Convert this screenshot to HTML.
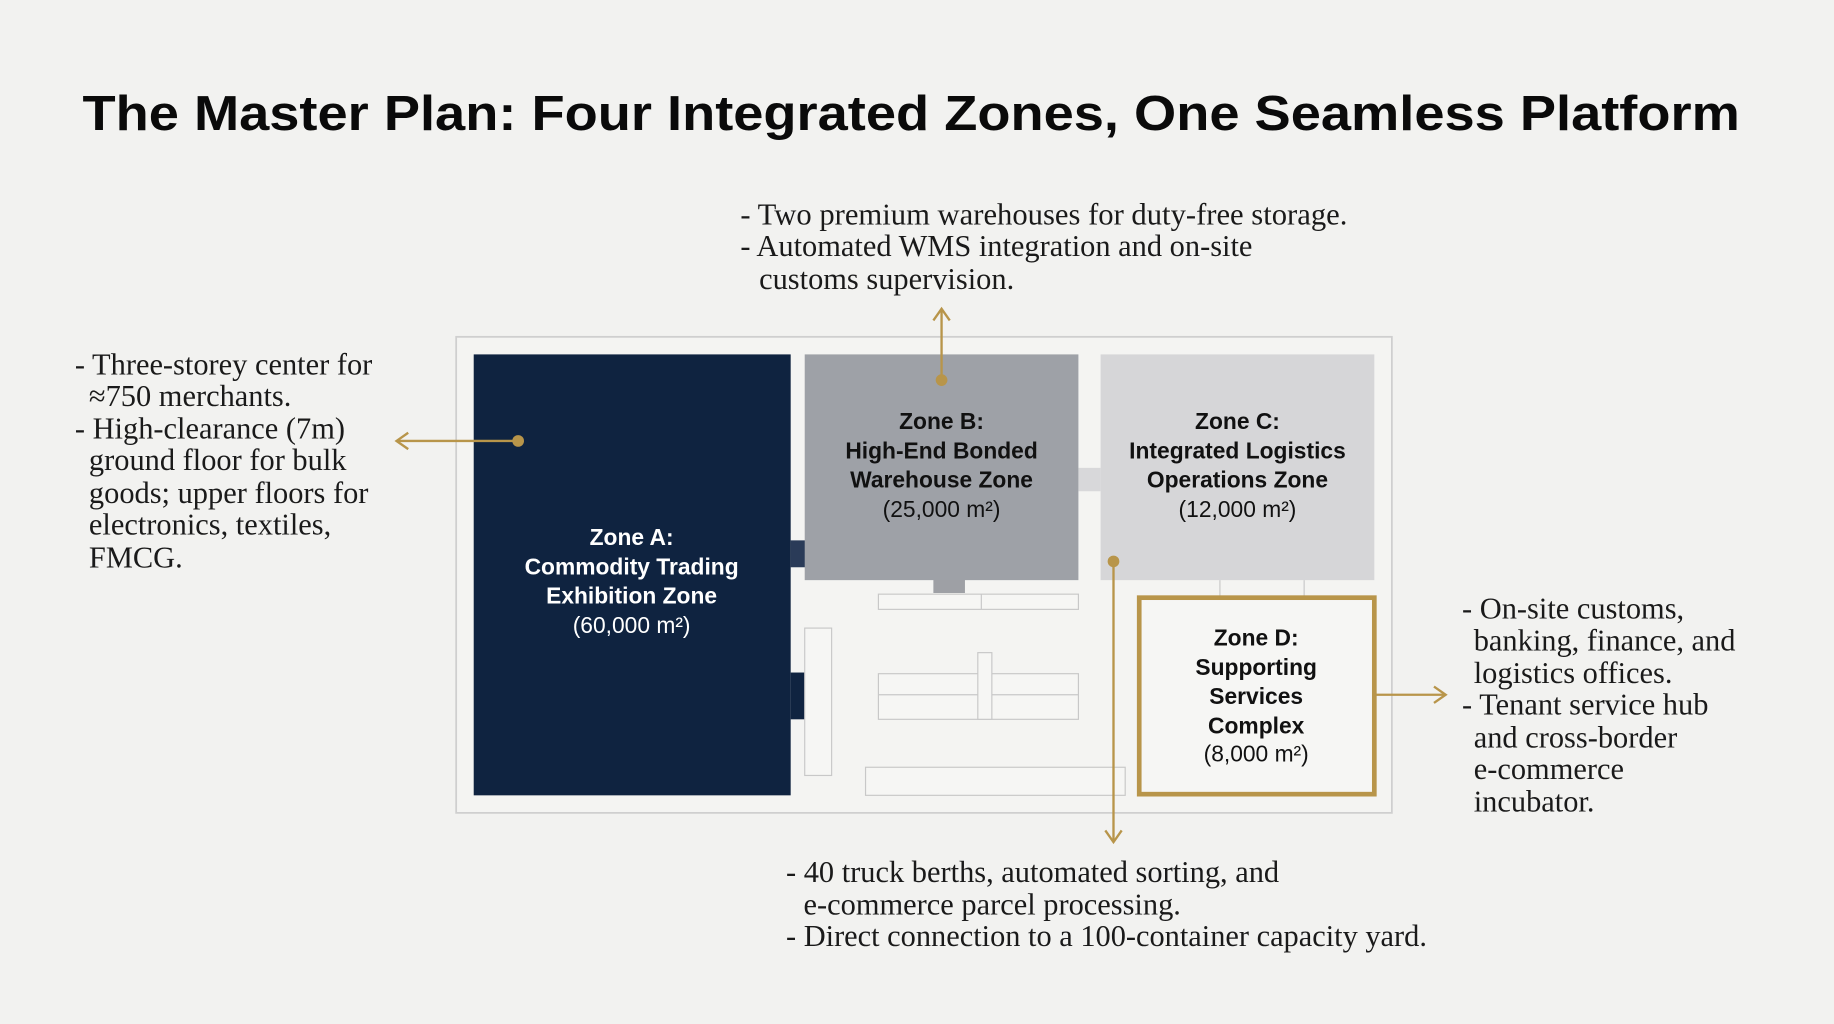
<!DOCTYPE html>
<html><head><meta charset="utf-8"><style>
html,body{margin:0;padding:0;background:#f2f2f0;}
svg{display:block}
.t{font-family:"Liberation Sans",sans-serif;font-weight:bold;}
.s{font-family:"Liberation Serif",serif;font-size:26px;fill:#1a1a1a;}
.z{font-family:"Liberation Sans",sans-serif;font-size:19.5px;text-anchor:middle;}
</style></head><body>
<svg width="1834" height="1024" viewBox="0 0 1568 875.5" xmlns="http://www.w3.org/2000/svg">
<rect width="1568" height="876" fill="#f2f2f0"/>
<text class="t" x="779" y="111" font-size="42" text-anchor="middle" fill="#0a0a0a" textLength="1417" lengthAdjust="spacingAndGlyphs">The Master Plan: Four Integrated Zones, One Seamless Platform</text>

<rect x="390" y="288" width="800" height="407" fill="#f4f4f2" stroke="#cfcfcf" stroke-width="1.5"/>
<rect x="676" y="462" width="13" height="23" fill="#2a3b58"/>
<rect x="676" y="575" width="13" height="40" fill="#0f2340"/>
<rect x="922" y="400" width="19" height="20" fill="#d8d8da"/>
<rect x="798" y="495" width="27" height="12" fill="#9ea0a5"/>
<rect x="751" y="508" width="171" height="13" fill="#f6f6f4" stroke="#c8c8c8"/>
<line x1="839" y1="508" x2="839" y2="521" stroke="#c8c8c8"/>
<rect x="688" y="537" width="23" height="126" fill="#f6f6f4" stroke="#c8c8c8"/>
<rect x="751" y="576" width="171" height="39" fill="#f6f6f4" stroke="#c8c8c8"/>
<line x1="751" y1="594" x2="922" y2="594" stroke="#c8c8c8"/>
<rect x="836" y="558" width="12" height="57" fill="#f6f6f4" stroke="#c8c8c8"/>
<rect x="740" y="656" width="222" height="24" fill="#f6f6f4" stroke="#c8c8c8"/>
<line x1="1043" y1="496" x2="1043" y2="510" stroke="#c8c8c8"/>
<line x1="1115" y1="496" x2="1115" y2="510" stroke="#c8c8c8"/>

<rect x="405" y="303" width="271" height="377" fill="#0f2340"/>
<rect x="688" y="303" width="234" height="193" fill="#9ea1a7"/>
<rect x="941" y="303" width="234" height="193" fill="#d6d6d8"/>
<rect x="974" y="511" width="201" height="168" fill="#f6f6f4" stroke="#b8954a" stroke-width="4"/>

<g class="z" fill="#ffffff">
<text x="540" y="466" font-weight="bold">Zone A:</text>
<text x="540" y="491" font-weight="bold">Commodity Trading</text>
<text x="540" y="516" font-weight="bold">Exhibition Zone</text>
<text x="540" y="541">(60,000 m²)</text>
</g>
<g class="z" fill="#111">
<text x="805" y="367" font-weight="bold">Zone B:</text>
<text x="805" y="392" font-weight="bold">High-End Bonded</text>
<text x="805" y="417" font-weight="bold">Warehouse Zone</text>
<text x="805" y="442">(25,000 m²)</text>
<text x="1058" y="367" font-weight="bold">Zone C:</text>
<text x="1058" y="392" font-weight="bold">Integrated Logistics</text>
<text x="1058" y="417" font-weight="bold">Operations Zone</text>
<text x="1058" y="442">(12,000 m²)</text>
<text x="1074" y="552" font-weight="bold">Zone D:</text>
<text x="1074" y="577" font-weight="bold">Supporting</text>
<text x="1074" y="602" font-weight="bold">Services</text>
<text x="1074" y="627" font-weight="bold">Complex</text>
<text x="1074" y="651">(8,000 m²)</text>
</g>

<g stroke="#b8954a" stroke-width="2" fill="none">
<line x1="443" y1="377" x2="339" y2="377"/><polyline points="349,370 339,377 349,384"/>
<line x1="805" y1="325" x2="805" y2="264"/><polyline points="798,274 805,264 812,274"/>
<line x1="1175" y1="594" x2="1236" y2="594"/><polyline points="1226,587 1236,594 1226,601"/>
<line x1="952" y1="480" x2="952" y2="720"/><polyline points="945,710 952,720 959,710"/>
</g>
<g fill="#b8954a"><circle cx="443" cy="377" r="5"/><circle cx="805" cy="325" r="5"/><circle cx="952" cy="480" r="5"/></g>

<text class="s" x="633" y="192" textLength="519" lengthAdjust="spacingAndGlyphs">- Two premium warehouses for duty-free storage.</text>
<text class="s" x="633" y="219">- Automated WMS integration and on-site</text>
<text class="s" x="649" y="247">customs supervision.</text>

<text class="s" x="64" y="320">- Three-storey center for</text>
<text class="s" x="76" y="347">≈750 merchants.</text>
<text class="s" x="64" y="375">- High-clearance (7m)</text>
<text class="s" x="76" y="402">ground floor for bulk</text>
<text class="s" x="76" y="430">goods; upper floors for</text>
<text class="s" x="76" y="457">electronics, textiles,</text>
<text class="s" x="76" y="485">FMCG.</text>

<text class="s" x="1250" y="529">- On-site customs,</text>
<text class="s" x="1260" y="556">banking, finance, and</text>
<text class="s" x="1260" y="584">logistics offices.</text>
<text class="s" x="1250" y="611">- Tenant service hub</text>
<text class="s" x="1260" y="639">and cross-border</text>
<text class="s" x="1260" y="666">e-commerce</text>
<text class="s" x="1260" y="694">incubator.</text>

<text class="s" x="672" y="754">- 40 truck berths, automated sorting, and</text>
<text class="s" x="687" y="782">e-commerce parcel processing.</text>
<text class="s" x="672" y="809" textLength="548" lengthAdjust="spacingAndGlyphs">- Direct connection to a 100-container capacity yard.</text>
</svg>
</body></html>
